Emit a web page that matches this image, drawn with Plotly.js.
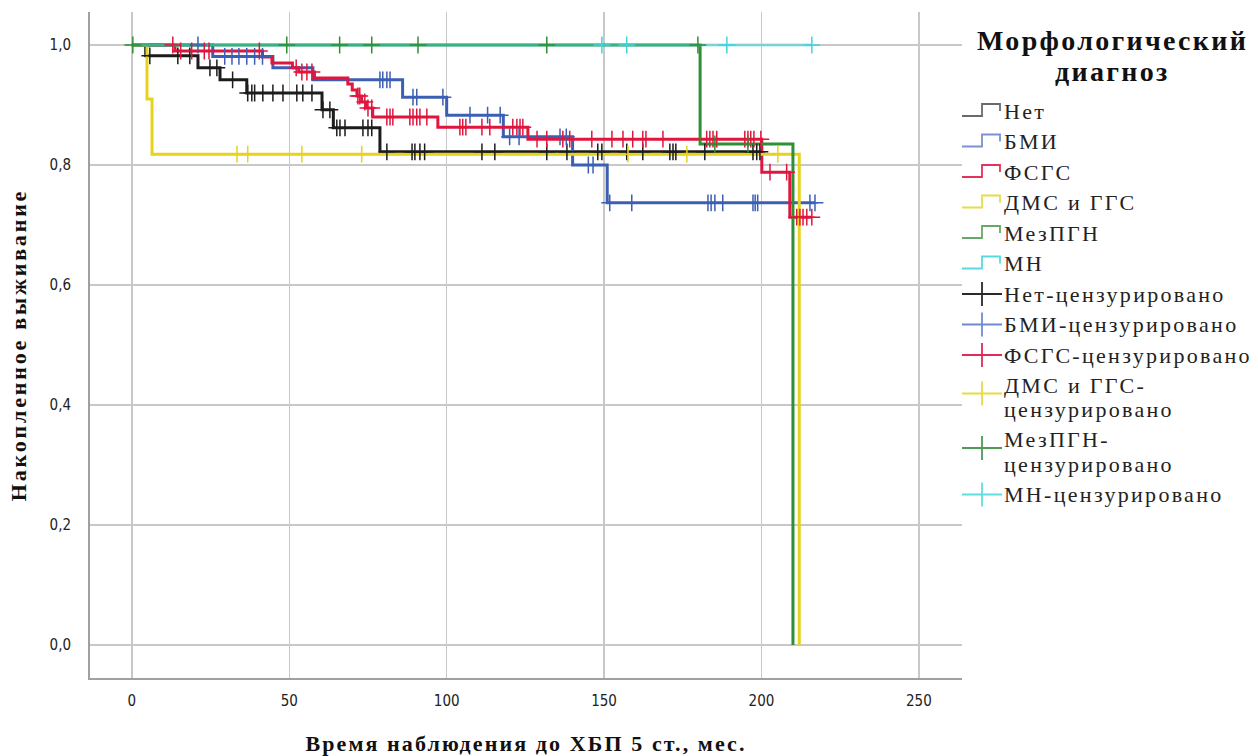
<!DOCTYPE html>
<html><head><meta charset="utf-8">
<script src="https://cdn.plot.ly/plotly-3.0.1.min.js"></script>
<style>
body{margin:0;background:#fff}
#chart{width:1258px;height:756px}
.annotation-text{letter-spacing:2.3px}
.xtitle{letter-spacing:2.1px}
.ytitle{letter-spacing:2.8px}
</style></head><body><div id="chart"></div>
<script>
// Group names and colours
const groupNames = ['Нет', 'БМИ', 'ФСГС', 'ДМС и ГГС', 'МезПГН', 'МН'];
const censorNames = ['Нет-цензурировано', 'БМИ-цензурировано', 'ФСГС-цензурировано',
  'ДМС и ГГС-<br>цензурировано', 'МезПГН-<br>цензурировано', 'МН-цензурировано'];
const legendTitleLines = ['Морфологический', 'диагноз'];
const groupColors = ['#1c1c1c', '#3c5fb4', '#e0163e', '#e6d41c', '#2f8f34', '#40d4dc'];
const legendLineColors = ['#6a6a6a', '#7891d0', '#e4325a', '#e8dc4a', '#66a866', '#58dbe0'];
const legendCrossColors = ['#2a2a2a', '#6f8bd0', '#e4285a', '#e8dc40', '#4f9a55', '#60dde0'];

// Event times (months) and cumulative survival after each event
const netEventT = [4.4, 21, 28, 36.5, 60.4, 64, 78.8];
const netEventS = [0.982, 0.962, 0.942, 0.920, 0.892, 0.862, 0.822];
const netEnd = 200;
const netCensor = [5.7, 14.6, 18.4, 24.8, 27, 32, 36.8, 38.1, 39, 41.6, 44.8, 48, 52.4, 54.3, 57.2,
  60.7, 62.9, 65.1, 66.1, 67.7, 73.4, 75, 76.2, 81, 89, 89.9, 91.5, 93, 111.2, 115.3, 131.8, 138.2,
  148, 149.3, 157.2, 162.3, 170.9, 171.9, 172.8, 182, 197.3, 198.5, 199.5];

const bmiEventT = [25.7, 44.8, 57.5, 86, 100, 118, 140, 151];
const bmiEventS = [0.981, 0.962, 0.942, 0.913, 0.883, 0.847, 0.800, 0.737];
const bmiEnd = 217;
const bmiCensor = [21, 29.5, 31.8, 34, 36.5, 39, 41.5, 78.8, 79.7, 81, 82, 89.3, 90.5, 98.8, 107.4,
  113, 117, 120, 123, 136, 138, 145, 146.5, 151.8, 158.8, 183, 184, 185.2, 187.7, 197.3, 198, 198.8,
  215.4, 217];

const fsgsEventT = [13.7, 41.5, 44.5, 51, 53, 58, 68.6, 70, 71.5, 73, 74.5, 76.5, 97.2, 125.8, 200.1, 209];
const fsgsEventS = [0.99, 0.98, 0.97, 0.962, 0.955, 0.945, 0.935, 0.925, 0.915, 0.905, 0.895, 0.88,
  0.863, 0.843, 0.788, 0.713];
const fsgsEnd = 216;
const fsgsCensor = [13, 15.5, 19, 23, 24.5, 40.5, 52.2, 54, 55.6, 57.2, 71.8, 72.4, 74, 75, 76.2, 81,
  82, 82.9, 88.3, 89.3, 90.5, 91.5, 93.7, 104.2, 105.1, 106.1, 111.2, 113.7, 121, 122.3, 123.3, 124.2,
  128.7, 131.8, 136.9, 139.1, 146.1, 152.5, 156, 159.1, 162.3, 163.3, 168.7, 182.6, 183.6, 184.6,
  185.8, 194.7, 195.7, 196.6, 197.6, 199.8, 202.7, 208, 211.2, 212.2, 213.2, 214.4, 216];

const dmsEventT = [4.8, 6.4, 212];
const dmsEventS = [0.91, 0.818, 0];
const dmsEnd = 212;
const dmsCensor = [33.4, 36.8, 54, 73, 157.6, 176.3, 205.2];

const mezEventT = [180.5, 210];
const mezEventS = [0.835, 0];
const mezEnd = 210;
const mezCensor = [0.3, 49.2, 66, 76.2, 90.9, 131.8, 179.8, 185.2, 195.7];

const mnEventT = [];
const mnEventS = [];
const mnEnd = 216;
const mnCensor = [149.3, 157.2, 189, 216];

// Axis ticks
const xTicks = [0, 50, 100, 150, 200, 250];
const yTicks = [0, 0.2, 0.4, 0.6, 0.8, 1.0];

const groups = [
  [netEventT, netEventS, netEnd, netCensor],
  [bmiEventT, bmiEventS, bmiEnd, bmiCensor],
  [fsgsEventT, fsgsEventS, fsgsEnd, fsgsCensor],
  [dmsEventT, dmsEventS, dmsEnd, dmsCensor],
  [mezEventT, mezEventS, mezEnd, mezCensor],
  [mnEventT, mnEventS, mnEnd, mnCensor]
];

function survAt(T, S, t) {
  let s = 1;
  for (let i = 0; i < T.length; i++) if (T[i] <= t) s = S[i];
  return s;
}

const lineTraces = [];
const censorTraces = [];
groups.forEach((g, i) => {
  const [T, S, end, C] = g;
  const x = [0].concat(T, [end]);
  const y = [1].concat(S, [S.length ? S[S.length - 1] : 1]);
  lineTraces.push({
    type: 'scatter', mode: 'lines', name: groupNames[i], x: x, y: y,
    line: {shape: 'hv', color: groupColors[i], width: 3},
    opacity: i === 5 ? 0.5 : 1,
    hoverinfo: 'skip', showlegend: false
  });
  censorTraces.push({
    type: 'scatter', mode: 'markers', name: censorNames[i].replace('<br>', ''), x: C,
    y: C.map(t => survAt(T, S, t)),
    marker: {symbol: 'cross-thin', size: 12, color: groupColors[i],
      line: {color: groupColors[i], width: 1.5}},
    hoverinfo: 'skip', showlegend: false
  });
});

// ---- custom legend (SPSS style) in pixel geometry, converted to paper coords ----
const M = {l: 90, r: 296, t: 12, b: 78};
const W = 1258, H = 756;
const pw = W - M.l - M.r, ph = H - M.t - M.b;
const px2x = p => (p - M.l) / pw;
const py2y = p => (H - M.b - p) / ph;

const serif = '"Liberation Serif", "DejaVu Serif", serif';
const annotations = [];
const shapes = [];

legendTitleLines.forEach((t, k) => {
  annotations.push({xref: 'paper', yref: 'paper', x: px2x(1112), y: py2y(40 + k * 32),
    xanchor: 'center', yanchor: 'middle', showarrow: false,
    text: '<b>' + t + '</b>', font: {family: serif, size: 28, color: '#111'}});
});

const itemLabels = groupNames.map(n => [n]).concat(censorNames.map(n => n.split('<br>')));
let cy = 111;
const pitch = 30.5, contLine = 24;
itemLabels.forEach((lines, idx) => {
  const gi = idx % 6;
  const isCensor = idx >= 6;
  lines.forEach((ln, k) => {
    annotations.push({xref: 'paper', yref: 'paper', x: px2x(1002), y: py2y(cy + k * contLine),
      xanchor: 'left', yanchor: 'middle', showarrow: false,
      text: ln, font: {family: serif, size: 22, color: '#222'}});
  });
  const iy = lines.length > 1 ? cy + 8 : cy;
  if (!isCensor) {
    const path = 'M ' + px2x(962) + ',' + py2y(iy + 5) + ' L ' + px2x(982) + ',' + py2y(iy + 5) +
      ' L ' + px2x(982) + ',' + py2y(iy - 7) + ' L ' + px2x(1000) + ',' + py2y(iy - 7) +
      ' L ' + px2x(1000) + ',' + py2y(iy);
    shapes.push({type: 'path', xref: 'paper', yref: 'paper', path: path,
      line: {color: legendLineColors[gi], width: 1.8}});
  } else {
    shapes.push({type: 'line', xref: 'paper', yref: 'paper', x0: px2x(962), x1: px2x(1002),
      y0: py2y(iy), y1: py2y(iy), line: {color: legendCrossColors[gi], width: 1.8}});
    shapes.push({type: 'line', xref: 'paper', yref: 'paper', x0: px2x(982), x1: px2x(982),
      y0: py2y(iy - 12), y1: py2y(iy + 12), line: {color: legendCrossColors[gi], width: 1.8}});
  }
  cy += pitch + (lines.length - 1) * contLine;
});

const tickFont = {family: '"Liberation Sans Narrow", "DejaVu Sans Condensed", sans-serif', size: 15, color: '#222'};
const titleFont = {family: serif, size: 22, color: '#111'};

const layout = {
  width: W, height: H,
  margin: {l: M.l, r: M.r, t: M.t, b: M.b, pad: 0},
  paper_bgcolor: '#fff', plot_bgcolor: '#fff',
  separators: ', ',
  showlegend: false,
  xaxis: {
    range: [-13.3, 263.7], tickvals: xTicks, ticktext: xTicks.map(String),
    showgrid: true, gridcolor: '#c8c8c8', gridwidth: 1.5, zeroline: false,
    showline: true, linecolor: '#a0a0a0', linewidth: 2,
    ticks: 'outside', ticklen: 8, tickcolor: 'rgba(0,0,0,0)',
    tickfont: tickFont, automargin: false,
    title: {text: '<b>Время наблюдения до ХБП 5 ст., мес.</b>', font: titleFont, standoff: 28}
  },
  yaxis: {
    range: [-0.055, 1.055], tickvals: yTicks, tickformat: '.1f',
    showgrid: true, gridcolor: '#c8c8c8', gridwidth: 1.5, zeroline: false,
    showline: true, linecolor: '#a0a0a0', linewidth: 2,
    ticks: 'outside', ticklen: 14, tickcolor: 'rgba(0,0,0,0)',
    tickfont: tickFont, automargin: false,
    title: {text: '<b>Накопленное выживание</b>', font: titleFont, standoff: 17}
  },
  annotations: annotations,
  shapes: shapes
};

Plotly.newPlot('chart', lineTraces.concat(censorTraces), layout, {displayModeBar: false, staticPlot: true});
</script>
</body></html>
